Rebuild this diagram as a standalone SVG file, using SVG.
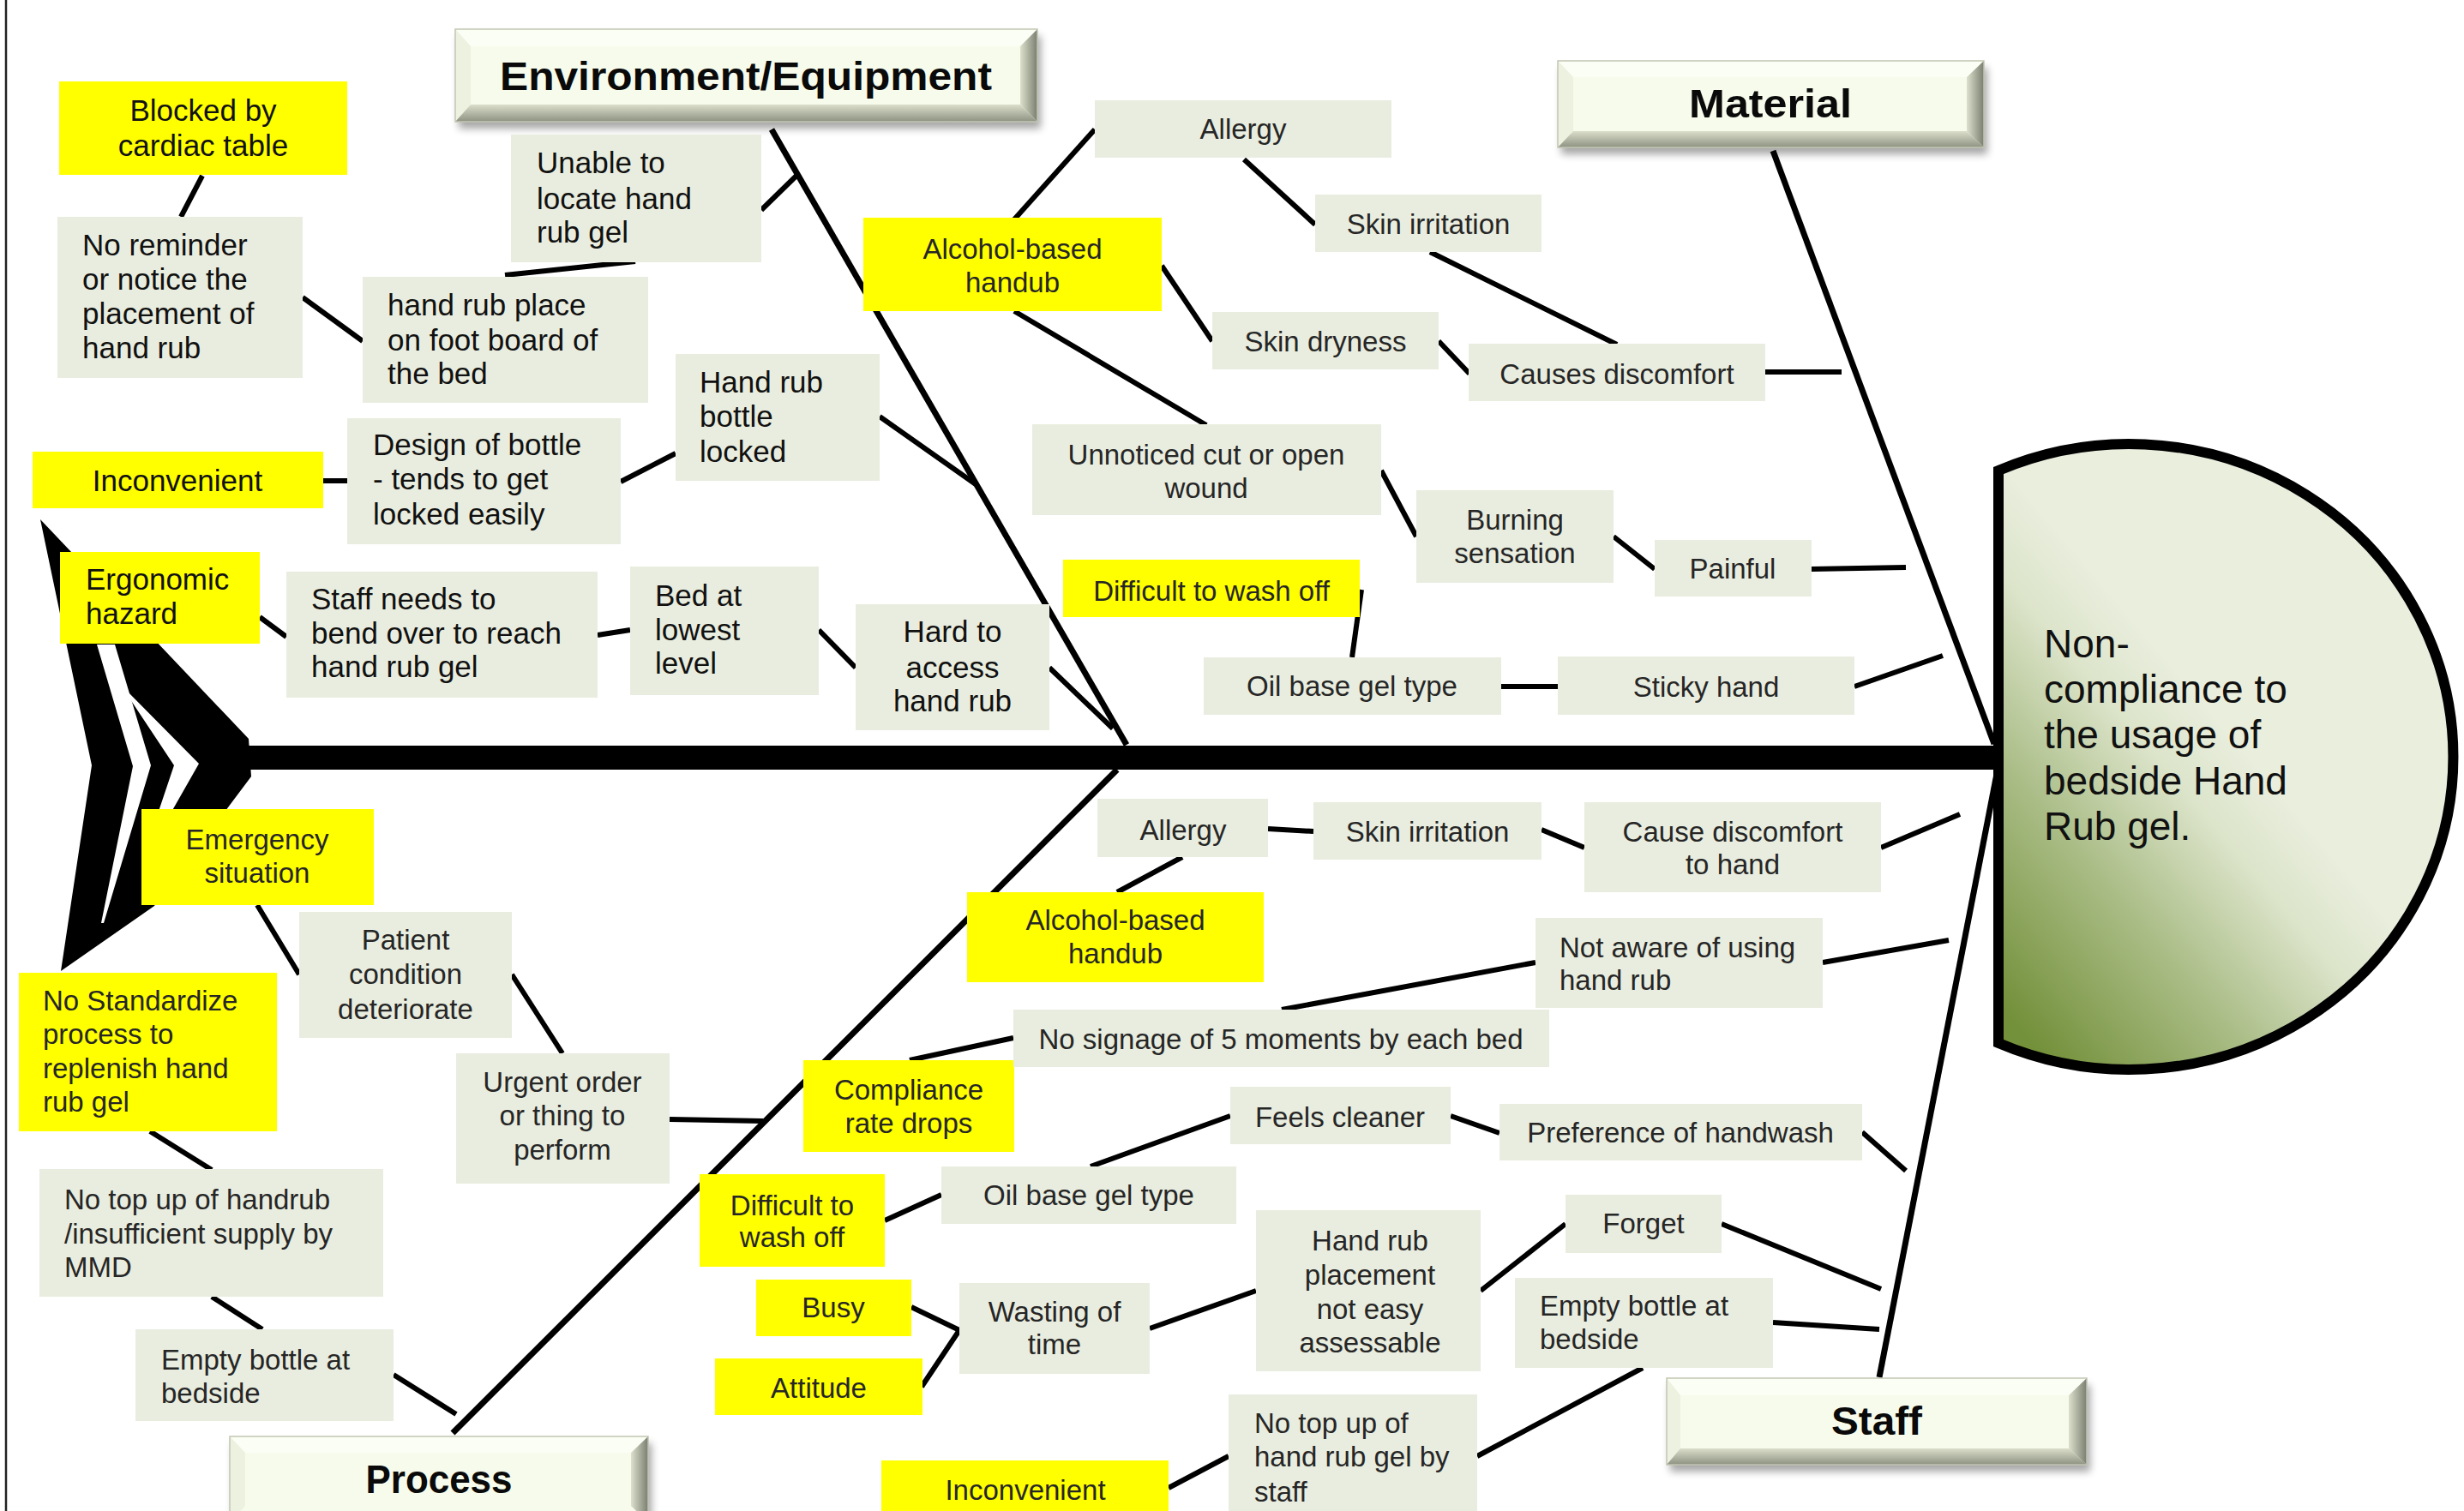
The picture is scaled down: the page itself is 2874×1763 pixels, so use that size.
<svg xmlns="http://www.w3.org/2000/svg" width="2874" height="1763" viewBox="0 0 2874 1763">
<defs>
<style>
.g{fill:#E9EDDF}
.y{fill:#FFFF00}
.ta{font-family:"Liberation Sans",Arial,sans-serif;font-size:35px;fill:#111}
.tc{font-family:"Liberation Sans",Arial,sans-serif;font-size:33px;fill:#262626}
.m{text-anchor:middle}
.cat{font-family:"Liberation Sans",Arial,sans-serif;font-size:46px;font-weight:bold;fill:#0a0a0a;text-anchor:middle}
.c{stroke:#000;stroke-width:6;fill:none;stroke-linecap:butt}
.bone{stroke:#000;stroke-width:7;fill:none}
.face{fill:#F6FBEB}
.bt{fill:#FBFEF5}
.bl{fill:#EDF1E0}
.sh{fill:#000;opacity:.35}
.ol{fill:none;stroke:#C2C6B2;stroke-width:1.5}
</style>
<filter id="blur" x="-10%" y="-30%" width="120%" height="160%"><feGaussianBlur stdDeviation="5"/></filter>
<linearGradient id="bevR" x1="0" y1="0" x2="1" y2="0"><stop offset="0" stop-color="#DCE0CC"/><stop offset="1" stop-color="#7A7E70"/></linearGradient>
<linearGradient id="bevB" x1="0" y1="0" x2="0" y2="1"><stop offset="0" stop-color="#DADECA"/><stop offset="1" stop-color="#8E9282"/></linearGradient>
<linearGradient id="headFill" x1="0.55" y1="0.5" x2="0.12" y2="1"><stop offset="0" stop-color="#E9EEDD"/><stop offset="0.2" stop-color="#DCE4CA"/><stop offset="0.55" stop-color="#A9BC85"/><stop offset="1" stop-color="#73903A"/></linearGradient>
</defs>
<rect width="2874" height="1763" fill="#fff"/>
<line x1="7" y1="0" x2="7" y2="1763" stroke="#222" stroke-width="2.5"/>

<!-- tail and spine -->
<g id="tail">
<polygon points="47,606 290,862 293,906 180,1057 71,1133 107,893" fill="#000"/>
<polygon points="113,752 134,752 176,893 121,1077 118,1077 155,894" fill="#fff"/>
<polygon points="140,798 232,891 170,1000 167,1000 203,893" fill="#fff"/>
</g>
<rect id="spine" x="285" y="870" width="2050" height="28" fill="#000"/>

<!-- head -->
<g id="head">
<path d="M2331,549 A378,365 0 1 1 2331,1217 Z" fill="url(#headFill)" stroke="#000" stroke-width="12" stroke-linejoin="miter"/>
<text font-family="Liberation Sans,Arial,sans-serif" font-size="46" fill="#111"><tspan x="2384" y="767">Non-</tspan><tspan x="2384" y="820">compliance to</tspan><tspan x="2384" y="873">the usage of</tspan><tspan x="2384" y="927">bedside Hand</tspan><tspan x="2384" y="980">Rub gel.</tspan></text>
</g>

<!-- connectors -->
<g id="connectors">
<line class="bone" x1="900" y1="151" x2="1314" y2="869"/>
<line class="bone" x1="2068" y1="176" x2="2326" y2="868"/>
<line class="bone" x1="528" y1="1672" x2="1303" y2="898"/>
<line class="bone" x1="2192" y1="1607" x2="2330" y2="898"/>
<line class="c" x1="236" y1="205" x2="211" y2="253"/>
<line class="c" x1="353" y1="347" x2="423" y2="398"/>
<line class="c" x1="589" y1="321" x2="741" y2="305"/>
<line class="c" x1="888" y1="245" x2="931" y2="203"/>
<line class="c" x1="1026" y1="486" x2="1138" y2="565"/>
<line class="c" x1="377" y1="561" x2="405" y2="561" stroke-width="9"/>
<line class="c" x1="724" y1="562" x2="788" y2="529"/>
<line class="c" x1="303" y1="720" x2="334" y2="743"/>
<line class="c" x1="697" y1="741" x2="735" y2="735"/>
<line class="c" x1="955" y1="735" x2="998" y2="779"/>
<line class="c" x1="1224" y1="779" x2="1298" y2="850"/>
<line class="c" x1="1183" y1="256" x2="1277" y2="151"/>
<line class="c" x1="1451" y1="186" x2="1534" y2="262"/>
<line class="c" x1="1355" y1="310" x2="1414" y2="398"/>
<line class="c" x1="1668" y1="294" x2="1886" y2="402"/>
<line class="c" x1="1678" y1="398" x2="1714" y2="436"/>
<line class="c" x1="2059" y1="434" x2="2148" y2="434" stroke-width="8"/>
<line class="c" x1="1183" y1="363" x2="1407" y2="496"/>
<line class="c" x1="1611" y1="549" x2="1652" y2="626"/>
<line class="c" x1="1882" y1="626" x2="1930" y2="664"/>
<line class="c" x1="2113" y1="664" x2="2223" y2="662"/>
<line class="c" x1="1588" y1="688" x2="1577" y2="767"/>
<line class="c" x1="1751" y1="801" x2="1817" y2="801" stroke-width="8"/>
<line class="c" x1="2163" y1="801" x2="2266" y2="765"/>
<line class="c" x1="300" y1="1056" x2="349" y2="1137"/>
<line class="c" x1="597" y1="1137" x2="656" y2="1229"/>
<line class="c" x1="781" y1="1306" x2="890" y2="1308" stroke-width="8"/>
<line class="c" x1="175" y1="1320" x2="247" y2="1365"/>
<line class="c" x1="247" y1="1513" x2="306" y2="1551"/>
<line class="c" x1="459" y1="1604" x2="532" y2="1650"/>
<line class="c" x1="1479" y1="967" x2="1532" y2="970" stroke-width="8"/>
<line class="c" x1="1798" y1="968" x2="1848" y2="989"/>
<line class="c" x1="2194" y1="989" x2="2286" y2="950"/>
<line class="c" x1="1379" y1="1000" x2="1303" y2="1041"/>
<line class="c" x1="2126" y1="1123" x2="2273" y2="1097"/>
<line class="c" x1="1791" y1="1123" x2="1495" y2="1178"/>
<line class="c" x1="1182" y1="1211" x2="1061" y2="1237"/>
<line class="c" x1="1692" y1="1302" x2="1749" y2="1322"/>
<line class="c" x1="2172" y1="1321" x2="2223" y2="1366"/>
<line class="c" x1="1272" y1="1361" x2="1435" y2="1302"/>
<line class="c" x1="1032" y1="1424" x2="1098" y2="1394"/>
<line class="c" x1="1063" y1="1525" x2="1119" y2="1552"/>
<line class="c" x1="1075" y1="1618" x2="1119" y2="1552"/>
<line class="c" x1="1341" y1="1550" x2="1465" y2="1506"/>
<line class="c" x1="1727" y1="1506" x2="1826" y2="1428"/>
<line class="c" x1="2008" y1="1428" x2="2194" y2="1504"/>
<line class="c" x1="2068" y1="1543" x2="2192" y2="1551" stroke-width="8"/>
<line class="c" x1="1916" y1="1596" x2="1723" y2="1699"/>
<line class="c" x1="1433" y1="1699" x2="1363" y2="1736"/>
</g>

<!-- category boxes -->
<g id="cat-env">
<rect class="sh" x="535" y="42" width="679" height="108" filter="url(#blur)"/>
<rect class="face" x="531" y="34" width="679" height="108"/>
<polygon class="bt" points="531,34 1210,34 1192,54 549,54"/>
<polygon class="bl" points="531,34 549,54 549,122 531,142"/>
<polygon fill="url(#bevR)" points="1210,34 1210,142 1190,122 1190,54"/>
<polygon fill="url(#bevB)" points="531,142 1210,142 1190,122 549,122"/>
<rect class="ol" x="531" y="34" width="679" height="108"/>
<text class="cat" x="870" y="105" textLength="574" lengthAdjust="spacingAndGlyphs">Environment/Equipment</text>
</g>
<g id="cat-material">
<rect class="sh" x="1821" y="79" width="497" height="101" filter="url(#blur)"/>
<rect class="face" x="1817" y="71" width="497" height="101"/>
<polygon class="bt" points="1817,71 2314,71 2296,90 1835,90"/>
<polygon class="bl" points="1817,71 1835,90 1835,153 1817,172"/>
<polygon fill="url(#bevR)" points="2314,71 2314,172 2294,153 2294,90"/>
<polygon fill="url(#bevB)" points="1817,172 2314,172 2294,153 1835,153"/>
<rect class="ol" x="1817" y="71" width="497" height="101"/>
<text class="cat" x="2065" y="137" textLength="190" lengthAdjust="spacingAndGlyphs">Material</text>
</g>
<g id="cat-process">
<rect class="sh" x="272" y="1684" width="488" height="100" filter="url(#blur)"/>
<rect class="face" x="268" y="1676" width="488" height="100"/>
<polygon class="bt" points="268,1676 756,1676 738,1695 286,1695"/>
<polygon class="bl" points="268,1676 286,1695 286,1757 268,1776"/>
<polygon fill="url(#bevR)" points="756,1676 756,1776 736,1757 736,1695"/>
<rect class="ol" x="268" y="1676" width="488" height="100"/>
<text class="cat" x="512" y="1742" textLength="171" lengthAdjust="spacingAndGlyphs">Process</text>
</g>
<g id="cat-staff">
<rect class="sh" x="1948" y="1616" width="490" height="101" filter="url(#blur)"/>
<rect class="face" x="1944" y="1608" width="490" height="101"/>
<polygon class="bt" points="1944,1608 2434,1608 2414,1628 1960,1628"/>
<polygon class="bl" points="1944,1608 1960,1628 1960,1690 1944,1709"/>
<polygon fill="url(#bevR)" points="2434,1608 2434,1709 2413,1690 2413,1628"/>
<polygon fill="url(#bevB)" points="1944,1709 2434,1709 2413,1690 1960,1690"/>
<rect class="ol" x="1944" y="1608" width="490" height="101"/>
<text class="cat" x="2189" y="1674" textLength="106" lengthAdjust="spacingAndGlyphs">Staff</text>
</g>

<!-- Environment/Equipment nodes -->
<g id="n-blocked"><rect class="y" x="69" y="95" width="336" height="109"/><text class="ta m"><tspan x="237" y="141">Blocked by</tspan><tspan x="237" y="182">cardiac table</tspan></text></g>
<g id="n-noreminder"><rect class="g" x="67" y="253" width="286" height="188"/><text class="ta"><tspan x="96" y="298">No reminder</tspan><tspan x="96" y="338">or notice the</tspan><tspan x="96" y="378">placement of</tspan><tspan x="96" y="418">hand rub</tspan></text></g>
<g id="n-footboard"><rect class="g" x="423" y="323" width="333" height="147"/><text class="ta"><tspan x="452" y="368">hand rub place</tspan><tspan x="452" y="409">on foot board of</tspan><tspan x="452" y="448">the bed</tspan></text></g>
<g id="n-unable"><rect class="g" x="596" y="157" width="292" height="149"/><text class="ta"><tspan x="626" y="202">Unable to</tspan><tspan x="626" y="244">locate hand</tspan><tspan x="626" y="283">rub gel</tspan></text></g>
<g id="n-bottlelocked"><rect class="g" x="788" y="413" width="238" height="148"/><text class="ta"><tspan x="816" y="458">Hand rub</tspan><tspan x="816" y="498">bottle</tspan><tspan x="816" y="539">locked</tspan></text></g>
<g id="n-inconvenient1"><rect class="y" x="38" y="527" width="339" height="66"/><text class="ta m" x="207" y="573">Inconvenient</text></g>
<g id="n-design"><rect class="g" x="405" y="488" width="319" height="147"/><text class="ta"><tspan x="435" y="531">Design of bottle</tspan><tspan x="435" y="571">- tends to get</tspan><tspan x="435" y="612">locked easily</tspan></text></g>
<g id="n-ergonomic"><rect class="y" x="70" y="644" width="233" height="107"/><text class="ta"><tspan x="100" y="688">Ergonomic</tspan><tspan x="100" y="728">hazard</tspan></text></g>
<g id="n-staffneeds"><rect class="g" x="334" y="667" width="363" height="147"/><text class="ta"><tspan x="363" y="711">Staff needs to</tspan><tspan x="363" y="751">bend over to reach</tspan><tspan x="363" y="790">hand rub gel</tspan></text></g>
<g id="n-bedlowest"><rect class="g" x="735" y="661" width="220" height="150"/><text class="ta"><tspan x="764" y="707">Bed at</tspan><tspan x="764" y="747">lowest</tspan><tspan x="764" y="786">level</tspan></text></g>
<g id="n-hardaccess"><rect class="g" x="998" y="705" width="226" height="147"/><text class="ta m"><tspan x="1111" y="749">Hard to</tspan><tspan x="1111" y="791">access</tspan><tspan x="1111" y="830">hand rub</tspan></text></g>

<!-- Material nodes -->
<g id="n-allergy1"><rect class="g" x="1277" y="117" width="346" height="67"/><text class="tc m" x="1450" y="162">Allergy</text></g>
<g id="n-alcohol1"><rect class="y" x="1007" y="254" width="348" height="109"/><text class="tc m"><tspan x="1181" y="302">Alcohol-based</tspan><tspan x="1181" y="341">handub</tspan></text></g>
<g id="n-skinirritation1"><rect class="g" x="1534" y="227" width="264" height="67"/><text class="tc m" x="1666" y="273">Skin irritation</text></g>
<g id="n-skindryness"><rect class="g" x="1414" y="364" width="264" height="67"/><text class="tc m" x="1546" y="410">Skin dryness</text></g>
<g id="n-causes"><rect class="g" x="1713" y="401" width="346" height="67"/><text class="tc m" x="1886" y="448">Causes discomfort</text></g>
<g id="n-unnoticed"><rect class="g" x="1204" y="495" width="407" height="106"/><text class="tc m"><tspan x="1407" y="542">Unnoticed cut or open</tspan><tspan x="1407" y="581">wound</tspan></text></g>
<g id="n-burning"><rect class="g" x="1652" y="572" width="230" height="108"/><text class="tc m"><tspan x="1767" y="618">Burning</tspan><tspan x="1767" y="657">sensation</tspan></text></g>
<g id="n-painful"><rect class="g" x="1930" y="630" width="183" height="66"/><text class="tc m" x="2021" y="675">Painful</text></g>
<g id="n-difficult1"><rect class="y" x="1240" y="653" width="346" height="67"/><text class="tc m" x="1413" y="701">Difficult to wash off</text></g>
<g id="n-oilbase1"><rect class="g" x="1404" y="767" width="347" height="67"/><text class="tc m" x="1577" y="812">Oil base gel type</text></g>
<g id="n-sticky"><rect class="g" x="1817" y="766" width="346" height="68"/><text class="tc m" x="1990" y="813">Sticky hand</text></g>

<!-- Process nodes -->
<g id="n-emergency"><rect class="y" x="165" y="944" width="271" height="112"/><text class="tc m"><tspan x="300" y="991">Emergency</tspan><tspan x="300" y="1030">situation</tspan></text></g>
<g id="n-patient"><rect class="g" x="349" y="1064" width="248" height="147"/><text class="tc m"><tspan x="473" y="1108">Patient</tspan><tspan x="473" y="1148">condition</tspan><tspan x="473" y="1189">deteriorate</tspan></text></g>
<g id="n-urgent"><rect class="g" x="532" y="1229" width="249" height="152"/><text class="tc m"><tspan x="656" y="1274">Urgent order</tspan><tspan x="656" y="1313">or thing to</tspan><tspan x="656" y="1353">perform</tspan></text></g>
<g id="n-nostandard"><rect class="y" x="22" y="1135" width="301" height="185"/><text class="tc"><tspan x="50" y="1179">No Standardize</tspan><tspan x="50" y="1218">process to</tspan><tspan x="50" y="1258">replenish hand</tspan><tspan x="50" y="1297">rub gel</tspan></text></g>
<g id="n-notopup1"><rect class="g" x="46" y="1364" width="401" height="149"/><text class="tc"><tspan x="75" y="1411">No top up of handrub</tspan><tspan x="75" y="1451">/insufficient supply by</tspan><tspan x="75" y="1490">MMD</tspan></text></g>
<g id="n-empty1"><rect class="g" x="158" y="1551" width="301" height="107"/><text class="tc"><tspan x="188" y="1598">Empty bottle at</tspan><tspan x="188" y="1637">bedside</tspan></text></g>
<g id="n-compliance"><rect class="y" x="937" y="1237" width="246" height="107"/><text class="tc m"><tspan x="1060" y="1283">Compliance</tspan><tspan x="1060" y="1322">rate drops</tspan></text></g>
<g id="n-difficult2"><rect class="y" x="816" y="1370" width="216" height="108"/><text class="tc m"><tspan x="924" y="1418">Difficult to</tspan><tspan x="924" y="1455">wash off</tspan></text></g>
<g id="n-busy"><rect class="y" x="882" y="1493" width="181" height="66"/><text class="tc m" x="972" y="1537">Busy</text></g>
<g id="n-attitude"><rect class="y" x="834" y="1585" width="242" height="66"/><text class="tc m" x="955" y="1631">Attitude</text></g>
<g id="n-inconvenient2"><rect class="y" x="1028" y="1704" width="335" height="70"/><text class="tc m" x="1196" y="1750">Inconvenient</text></g>

<!-- Staff nodes -->
<g id="n-allergy2"><rect class="g" x="1280" y="932" width="199" height="68"/><text class="tc m" x="1380" y="980">Allergy</text></g>
<g id="n-skinirritation2"><rect class="g" x="1532" y="936" width="266" height="67"/><text class="tc m" x="1665" y="982">Skin irritation</text></g>
<g id="n-causehand"><rect class="g" x="1848" y="936" width="346" height="105"/><text class="tc m"><tspan x="2021" y="982">Cause discomfort</tspan><tspan x="2021" y="1020">to hand</tspan></text></g>
<g id="n-alcohol2"><rect class="y" x="1128" y="1041" width="346" height="105"/><text class="tc m"><tspan x="1301" y="1085">Alcohol-based</tspan><tspan x="1301" y="1124">handub</tspan></text></g>
<g id="n-notaware"><rect class="g" x="1791" y="1071" width="335" height="105"/><text class="tc"><tspan x="1819" y="1117">Not aware of using</tspan><tspan x="1819" y="1155">hand rub</tspan></text></g>
<g id="n-signage"><rect class="g" x="1182" y="1178" width="625" height="67"/><text class="tc m" x="1494" y="1224">No signage of 5 moments by each bed</text></g>
<g id="n-feels"><rect class="g" x="1435" y="1268" width="257" height="67"/><text class="tc m" x="1563" y="1315">Feels cleaner</text></g>
<g id="n-preference"><rect class="g" x="1749" y="1288" width="423" height="66"/><text class="tc m" x="1960" y="1333">Preference of handwash</text></g>
<g id="n-oilbase2"><rect class="g" x="1098" y="1361" width="344" height="67"/><text class="tc m" x="1270" y="1406">Oil base gel type</text></g>
<g id="n-wasting"><rect class="g" x="1119" y="1497" width="222" height="106"/><text class="tc m"><tspan x="1230" y="1542">Wasting of</tspan><tspan x="1230" y="1580">time</tspan></text></g>
<g id="n-placement"><rect class="g" x="1465" y="1412" width="262" height="188"/><text class="tc m"><tspan x="1598" y="1459">Hand rub</tspan><tspan x="1598" y="1499">placement</tspan><tspan x="1598" y="1539">not easy</tspan><tspan x="1598" y="1578">assessable</tspan></text></g>
<g id="n-forget"><rect class="g" x="1826" y="1394" width="182" height="68"/><text class="tc m" x="1917" y="1439">Forget</text></g>
<g id="n-empty2"><rect class="g" x="1767" y="1491" width="301" height="105"/><text class="tc"><tspan x="1796" y="1535">Empty bottle at</tspan><tspan x="1796" y="1574">bedside</tspan></text></g>
<g id="n-notopup2"><rect class="g" x="1433" y="1627" width="290" height="140"/><text class="tc"><tspan x="1463" y="1672">No top up of</tspan><tspan x="1463" y="1711">hand rub gel by</tspan><tspan x="1463" y="1752">staff</tspan></text></g>
</svg>
